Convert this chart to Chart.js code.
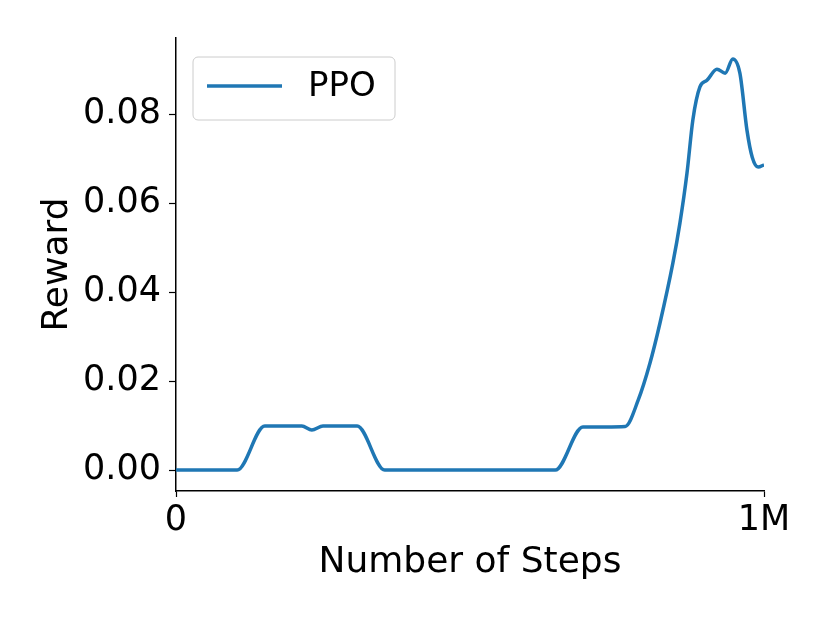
<!DOCTYPE html>
<html>
<head>
<meta charset="utf-8">
<script src="https://cdn.jsdelivr.net/npm/chart.js@4"></script>
<style>
  html, body { margin: 0; padding: 0; background: #fff; }
  #wrap { width: 830px; height: 623px; }
</style>
</head>
<body>
<div id="wrap"><canvas id="chart"></canvas></div>
<script>
// data
const steps = [0, 50000, 104000, 151000, 180000, 214000, 231000, 250000, 280000, 308000,
  355000, 450000, 550000, 645000, 692000, 730000, 764000, 786000, 806000, 823000,
  845000, 857000, 869000, 879000, 891000, 903000, 920000, 934000, 947000, 959000,
  971000, 980000, 990000, 1000000];
const rewards = [0, 0, 0, 0.0099, 0.0099, 0.0099, 0.009, 0.0099, 0.0099, 0.0099,
  0, 0, 0, 0, 0.0097, 0.0097, 0.0098, 0.0157, 0.024, 0.033,
  0.0465, 0.0555, 0.0667, 0.0787, 0.0861, 0.0876, 0.0901, 0.0892, 0.0924, 0.0892,
  0.0764, 0.0703, 0.0681, 0.0686];
const xTicks = [0, 1000000];
const xTickLabels = ['0', '1M'];
const yTicks = [0, 0.02, 0.04, 0.06, 0.08];

const FONT = '"DejaVu Sans", sans-serif';

// matplotlib-style legend box inside the axes
const legendBox = {
  id: 'legendBox',
  afterDatasetsDraw(chart) {
    const { ctx, chartArea } = chart;
    const ds = chart.data.datasets[0];
    const x = chartArea.left + 17, y = chartArea.top + 19, w = 202, h = 63;
    ctx.save();
    ctx.fillStyle = 'rgba(255,255,255,0.8)';
    ctx.strokeStyle = '#cccccc';
    ctx.lineWidth = 1;
    ctx.beginPath();
    ctx.roundRect(x, y, w, h, 5);
    ctx.fill();
    ctx.stroke();
    ctx.strokeStyle = ds.borderColor;
    ctx.lineWidth = ds.borderWidth;
    ctx.beginPath();
    ctx.moveTo(x + 14, y + 29);
    ctx.lineTo(x + 89, y + 29);
    ctx.stroke();
    ctx.fillStyle = '#000';
    ctx.font = '34px ' + FONT;
    ctx.textBaseline = 'middle';
    ctx.fillText(ds.label, x + 115, y + 30);
    ctx.restore();
  }
};

const ctx = document.getElementById('chart').getContext('2d');
new Chart(ctx, {
  type: 'line',
  data: {
    datasets: [{
      label: 'PPO',
      data: steps.map((s, i) => ({ x: s, y: rewards[i] })),
      borderColor: '#1f77b4',
      borderWidth: 3.5,
      pointRadius: 0,
      fill: false,
      cubicInterpolationMode: 'monotone',
    }],
  },
  options: {
    responsive: true,
    maintainAspectRatio: false,
    animation: false,
    layout: {
      padding: { top: 38, right: 66, left: 0, bottom: 0 },
    },
    plugins: {
      legend: { display: false },
      tooltip: { enabled: false },
    },
    scales: {
      x: {
        type: 'linear',
        min: 0,
        max: 1000000,
        afterFit: (scale) => { scale.height = 132; },
        afterBuildTicks: (scale) => { scale.ticks = xTicks.map(v => ({ value: v })); },
        grid: {
          drawOnChartArea: false,
          tickLength: 6,
          tickColor: '#000',
          tickWidth: 1.2,
        },
        border: { color: '#000', width: 1.5 },
        ticks: {
          color: '#000',
          padding: 3,
          maxRotation: 0,
          font: { family: FONT, size: 35 },
          callback: (v) => xTickLabels[xTicks.indexOf(v)],
        },
        title: {
          display: true,
          text: 'Number of Steps',
          color: '#000',
          padding: { bottom: 39 },
          font: { family: FONT, size: 36 },
        },
      },
      y: {
        min: -0.0047,
        max: 0.0971,
        afterFit: (scale) => { scale.width = 176; },
        afterBuildTicks: (scale) => { scale.ticks = yTicks.map(v => ({ value: v })); },
        grid: {
          drawOnChartArea: false,
          tickLength: 7,
          tickColor: '#000',
          tickWidth: 1.2,
        },
        border: { color: '#000', width: 1.5 },
        ticks: {
          color: '#000',
          padding: 8,
          font: { family: FONT, size: 35 },
          callback: (v) => v.toFixed(2),
        },
        title: {
          display: true,
          text: 'Reward',
          color: '#000',
          padding: { top: 36 },
          font: { family: FONT, size: 36 },
        },
      },
    },
  },
  plugins: [legendBox],
});
</script>
</body>
</html>
